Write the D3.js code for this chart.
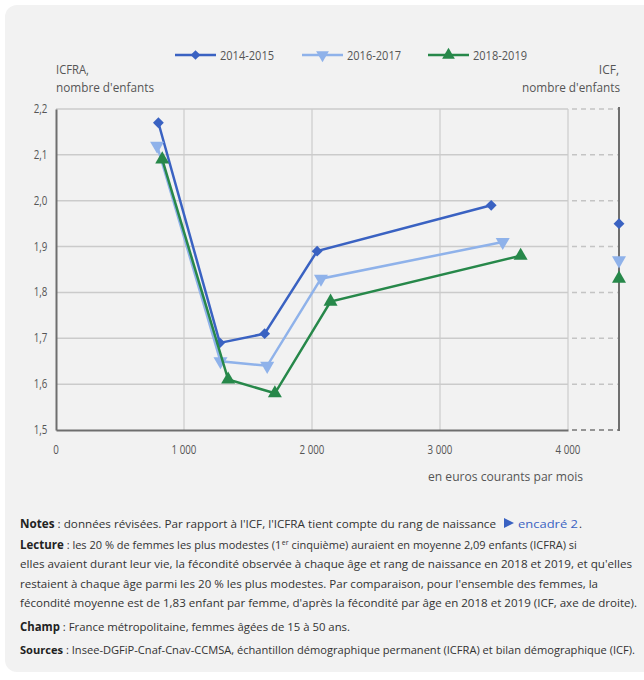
<!DOCTYPE html>
<html>
<head>
<meta charset="utf-8">
<script src="https://cdn.jsdelivr.net/npm/d3@7"></script>
<style>
  body { margin: 0; background: #fff; }
  svg { display: block; font-family: "Open Sans", sans-serif; }
</style>
</head>
<body>
<svg id="chart"></svg>
<script>
// données
const seriesNames = ["2014-2015", "2016-2017", "2018-2019"];
const revenus2014 = [800, 1280, 1630, 2040, 3400];
const icfra2014   = [2.17, 1.69, 1.71, 1.89, 1.99];
const revenus2016 = [790, 1285, 1650, 2070, 3490];
const icfra2016   = [2.12, 1.65, 1.64, 1.83, 1.91];
const revenus2018 = [830, 1345, 1710, 2145, 3630];
const icfra2018   = [2.09, 1.61, 1.58, 1.78, 1.88];
const icf         = [1.95, 1.87, 1.83];
const xTicks = [0, 1000, 2000, 3000, 4000];
const yTicks = [1.5, 1.6, 1.7, 1.8, 1.9, 2.0, 2.1, 2.2];

const colors  = ["#3a62c2", "#8fb2ea", "#27884a"];
const symbols = [d3.symbolDiamond2, d3.symbolTriangle, d3.symbolTriangle];
const rotations = [0, 180, 0];

const width = 644, height = 680;
const margin = {top: 109, right: 25, bottom: 250, left: 56};
const plotRight = 568; // fin de l'axe des revenus
const axisRight = 619; // axe de droite (ICF)

const svg = d3.select("#chart").attr("width", width).attr("height", height);

// fond de la carte
svg.append("rect")
    .attr("x", 5).attr("y", 5)
    .attr("width", 660).attr("height", 667)
    .attr("rx", 12)
    .attr("fill", "#f2f2f2");

const xscale = d3.scaleLinear().domain([0, 4000]).range([margin.left, plotRight]);
const yscale = d3.scaleLinear().domain([1.5, 2.2]).range([430, margin.top]);

const fmtX = d => d3.format(",")(d).replace(",", "\u00a0");
const fmtY = d => d3.format(".1f")(d).replace(".", ",");

// grille horizontale
svg.append("g")
    .selectAll("line").data(yTicks.slice(1)).enter()
    .append("line")
    .attr("x1", margin.left).attr("x2", plotRight)
    .attr("y1", d => yscale(d)).attr("y2", d => yscale(d))
    .attr("stroke", "#cbcbcb").attr("stroke-width", 1.5);

// prolongement en pointillés vers l'axe ICF
svg.append("g")
    .selectAll("line").data(yTicks).enter()
    .append("line")
    .attr("x1", plotRight + 4).attr("x2", axisRight)
    .attr("y1", d => yscale(d)).attr("y2", d => yscale(d))
    .attr("stroke", d => d === 1.5 ? "#777" : "#c4c4c4")
    .attr("stroke-width", 1.5)
    .attr("stroke-dasharray", "5,4");

// grille verticale
svg.append("g")
    .selectAll("line").data(xTicks.slice(1)).enter()
    .append("line")
    .attr("x1", d => xscale(d)).attr("x2", d => xscale(d))
    .attr("y1", margin.top).attr("y2", 430)
    .attr("stroke", "#cbcbcb").attr("stroke-width", 1.2);

// axes
const xaxis = d3.axisBottom(xscale).tickValues(xTicks).tickFormat(fmtX)
    .tickSize(0).tickSizeOuter(0).tickPadding(15);
const yaxis = d3.axisLeft(yscale).tickValues(yTicks).tickFormat(fmtY)
    .tickSize(0).tickSizeOuter(0).tickPadding(11);

const gx = svg.append("g").attr("transform", "translate(0,430)").call(xaxis);
const gy = svg.append("g").attr("transform", `translate(${margin.left},0)`).call(yaxis);
[gx, gy].forEach(g => {
  g.select(".domain").attr("stroke", "#6e6e6e").attr("stroke-width", 2);
  g.selectAll("text").attr("fill", "#555").attr("font-size", 12.5)
    .attr("font-family", "'Open Sans', sans-serif");
});
gx.selectAll(".tick").attr("transform", d => `translate(${xscale(d)},0) scale(0.78,1)`);
gy.selectAll(".tick").attr("transform", d => `translate(0,${yscale(d)}) scale(0.78,1)`);

// axe de droite
svg.append("line")
    .attr("x1", axisRight).attr("x2", axisRight)
    .attr("y1", margin.top - 2).attr("y2", 431)
    .attr("stroke", "#6e6e6e").attr("stroke-width", 2);

// titres d'axes
const titleG = svg.append("g").attr("fill", "#555").attr("font-size", 12);
titleG.append("text").attr("x", 56).attr("y", 74).text("ICFRA,")
    .attr("textLength", 33).attr("lengthAdjust", "spacingAndGlyphs");
titleG.append("text").attr("x", 56).attr("y", 92).text("nombre d'enfants")
    .attr("textLength", 98).attr("lengthAdjust", "spacingAndGlyphs");
titleG.append("text").attr("x", 619).attr("y", 74).attr("text-anchor", "end").text("ICF,");
titleG.append("text").attr("x", 620).attr("y", 92).attr("text-anchor", "end").text("nombre d'enfants")
    .attr("textLength", 98).attr("lengthAdjust", "spacingAndGlyphs");
titleG.append("text").attr("x", 583).attr("y", 481).attr("text-anchor", "end").text("en euros courants par mois")
    .attr("textLength", 155).attr("lengthAdjust", "spacingAndGlyphs");

// séries
const revenus = [revenus2014, revenus2016, revenus2018];
const valeurs = [icfra2014, icfra2016, icfra2018];
const series = seriesNames.map((name, i) => ({
  name: name,
  color: colors[i],
  points: revenus[i].map((r, j) => ({x: r, y: valeurs[i][j]}))
}));

const line = d3.line().x(d => xscale(d.x)).y(d => yscale(d.y));

series.forEach((s, i) => {
  const g = svg.append("g");
  g.append("path")
      .datum(s.points)
      .attr("d", line)
      .attr("fill", "none")
      .attr("stroke", s.color)
      .attr("stroke-width", 2.5);
  g.selectAll("path.mark").data(s.points).enter()
      .append("path")
      .attr("class", "mark")
      .attr("d", d3.symbol().type(symbols[i]).size(i === 0 ? 75 : 85))
      .attr("transform", d => `translate(${xscale(d.x)},${yscale(d.y)}) rotate(${rotations[i]})`)
      .attr("fill", s.color);
  // point ICF sur l'axe de droite
  g.append("path")
      .attr("d", d3.symbol().type(symbols[i]).size(i === 0 ? 75 : 85))
      .attr("transform", `translate(${axisRight},${yscale(icf[i])}) rotate(${rotations[i]})`)
      .attr("fill", s.color);
});

// légende
const legendX = [175, 302, 428];
const legend = svg.append("g");
series.forEach((s, i) => {
  const g = legend.append("g").attr("transform", `translate(${legendX[i]},55)`);
  g.append("line").attr("x1", 0).attr("x2", 41).attr("stroke", s.color).attr("stroke-width", 2.5);
  g.append("path")
      .attr("d", d3.symbol().type(symbols[i]).size(i === 0 ? 60 : 70))
      .attr("transform", `translate(20.5,0) rotate(${rotations[i]})`)
      .attr("fill", s.color);
  g.append("text").attr("x", 45).attr("y", 4.5)
      .attr("font-size", 12).attr("fill", "#555")
      .attr("textLength", 54).attr("lengthAdjust", "spacingAndGlyphs")
      .text(s.name);
});

// notes
const notes = svg.append("g").attr("font-size", 11.5).attr("fill", "#333");
const noteLines = [
  {y: 528, bold: "Notes", text: " : données révisées. Par rapport à l'ICF, l'ICFRA tient compte du rang de naissance", len: 476},
  {y: 568, text: "elles avaient durant leur vie, la fécondité observée à chaque âge et rang de naissance en 2018 et 2019, et qu'elles", len: 612},
  {y: 588, text: "restaient à chaque âge parmi les 20 % les plus modestes. Par comparaison, pour l'ensemble des femmes, la", len: 578},
  {y: 607, text: "fécondité moyenne est de 1,83 enfant par femme, d'après la fécondité par âge en 2018 et 2019 (ICF, axe de droite).", len: 617},
  {y: 631, bold: "Champ", text: " : France métropolitaine, femmes âgées de 15 à 50 ans.", len: 330},
  {y: 654, bold: "Sources", text: " : Insee-DGFiP-Cnaf-Cnav-CCMSA, échantillon démographique permanent (ICFRA) et bilan démographique (ICF).", len: 615, size: 11}
];
noteLines.forEach(l => {
  const t = notes.append("text").attr("x", 20).attr("y", l.y)
      .attr("textLength", l.len).attr("lengthAdjust", "spacingAndGlyphs");
  if (l.size) t.attr("font-size", l.size);
  if (l.bold) t.append("tspan").attr("font-weight", "bold").attr("fill", "#222").text(l.bold);
  t.append("tspan").text(l.text);
});

// ligne "Lecture" avec l'exposant de "1er", posée morceau par morceau
const lect1 = notes.append("text").attr("x", 20).attr("y", 549).attr("font-size", 11);
lect1.append("tspan").attr("font-weight", "bold").attr("fill", "#222").attr("font-size", 11.5).text("Lecture");
lect1.append("tspan").text(" : les 20 % de femmes les plus modestes (1");
const end1 = 20 + lect1.node().getComputedTextLength();
const sup = notes.append("text").attr("x", end1 + 0.5).attr("y", 545).attr("font-size", 7).text("er");
const end2 = end1 + 0.5 + sup.node().getComputedTextLength();
notes.append("text").attr("x", end2 + 3).attr("y", 549).attr("font-size", 11)
    .text("cinquième) auraient en moyenne 2,09 enfants (ICFRA) si");

// lien "encadré 2."
const link = notes.append("g").attr("transform", "translate(504,528)");
link.append("path").attr("d", "M0,-10 L10,-5 L0,0 Z").attr("fill", "#3a62c2");
link.append("text").attr("x", 14).attr("y", 0).attr("fill", "#3a62c2")
    .attr("textLength", 60).attr("lengthAdjust", "spacingAndGlyphs").text("encadré 2");
link.append("text").attr("x", 75).attr("y", 0).attr("fill", "#333").text(".");
</script>
</body>
</html>
